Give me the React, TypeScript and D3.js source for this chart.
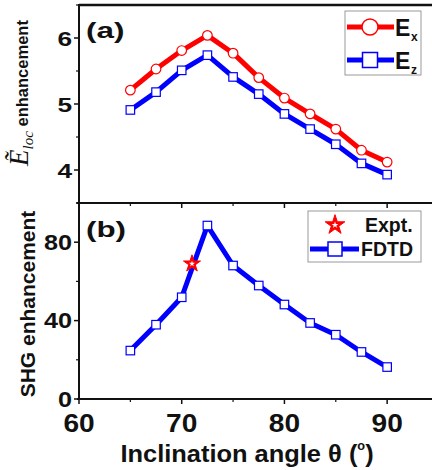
import React from "react";
import * as d3 from "d3";

const ANGLES = [65, 67.5, 70, 72.5, 75, 77.5, 80, 82.5, 85, 87.5, 90];
const EX = [5.21, 5.53, 5.81, 6.04, 5.77, 5.4, 5.09, 4.85, 4.62, 4.3, 4.12];
const EZ = [4.91, 5.18, 5.51, 5.74, 5.41, 5.15, 4.85, 4.62, 4.39, 4.1, 3.93];
const SHG = [24.7, 37.9, 51.9, 88.5, 68.1, 57.9, 48.2, 38.8, 32.8, 24.0, 16.3];
const EXPT_ANGLE = [71];
const EXPT_SHG = [69];

const X_TICKS = [60, 70, 80, 90];
const X_MINOR = [65, 75, 85, 95];
const A_TICKS = [4, 5, 6];
const A_MINOR = [3.5, 4.5, 5.5, 6.5];
const B_TICKS = [0, 40, 80];
const B_MINOR = [20, 60, 100];

const RED = "#ff0000";
const BLUE = "#0000ff";
const FONT = "'Liberation Sans', Arial, sans-serif";
const SERIF = "'Liberation Serif', 'DejaVu Serif', serif";

const x = d3.scaleLinear().domain([60, 95]).range([79, 438.5]);
const ya = d3.scaleLinear().domain([3.5, 6.5]).range([203, 5]);
const yb = d3.scaleLinear().domain([0, 100]).range([399, 203]);

function T({ x, y, size, anchor = "start", sx = 1, sy = 1, children, weight = "bold", family = FONT, rotate = 0 }: any) {
  return (
    <g transform={`translate(${x},${y}) rotate(${rotate}) scale(${sx},${sy})`}>
      <text x={0} y={0} fontSize={size} fontWeight={weight} fontFamily={family} textAnchor={anchor} fill="#111">
        {children}
      </text>
    </g>
  );
}

function Square({ cx, cy, s, sw = 1.2 }: any) {
  return <rect x={cx - s / 2} y={cy - s / 2} width={s} height={s} fill="#fff" stroke={BLUE} strokeWidth={sw} />;
}

function Star({ cx, cy, size }: any) {
  const outer = d3.symbol(d3.symbolStar, size)() as string;
  const inner = d3.symbol(d3.symbolStar, size * 0.12)() as string;
  return (
    <g transform={`translate(${cx},${cy})`}>
      <path d={outer} fill={RED} stroke={RED} strokeWidth={1} strokeLinejoin="round" />
      <path d={inner} fill="#fff" />
    </g>
  );
}

export default function App() {
  const lineA = (vals: number[]) =>
    d3.line<number>().x((_, i) => x(ANGLES[i])).y((d) => ya(d))(vals) as string;
  const lineB = d3.line<number>().x((_, i) => x(ANGLES[i])).y((d) => yb(d))(SHG) as string;

  return (
    <div style={{ position: "fixed", left: 0, top: 0 }}>
      <svg width={432} height={470} style={{ display: "block", background: "#fff" }}>
        {/* frame lines */}
        <line x1={79} x2={432} y1={5} y2={5} stroke="#111" strokeWidth={2.5} />
        <line x1={77} x2={432} y1={203} y2={203} stroke="#111" strokeWidth={2} />
        <line x1={77} x2={432} y1={399} y2={399} stroke="#111" strokeWidth={2} />
        <line x1={79} x2={79} y1={4} y2={400} stroke="#111" strokeWidth={2} />

        {/* y ticks a */}
        {A_TICKS.map((t) => (
          <g key={"a" + t}>
            <line x1={74} x2={79} y1={ya(t)} y2={ya(t)} stroke="#111" strokeWidth={1.5} />
            <T x={72} y={ya(t) + 7.5} size={25} anchor="end" sy={0.82} sx={1.05}>{t}</T>
          </g>
        ))}
        {A_MINOR.map((t) => (
          <line key={"am" + t} x1={76} x2={79} y1={ya(t)} y2={ya(t)} stroke="#111" strokeWidth={1.2} />
        ))}
        {/* y ticks b */}
        {B_TICKS.map((t) => (
          <g key={"b" + t}>
            <line x1={74} x2={79} y1={yb(t)} y2={yb(t)} stroke="#111" strokeWidth={1.5} />
            <T x={72} y={yb(t) + 7.5} size={24} anchor="end" sx={1.05} sy={0.95}>{t}</T>
          </g>
        ))}
        {B_MINOR.map((t) => (
          <line key={"bm" + t} x1={76} x2={79} y1={yb(t)} y2={yb(t)} stroke="#111" strokeWidth={1.2} />
        ))}
        {/* x ticks */}
        {X_TICKS.map((t) => (
          <g key={"x" + t}>
            <line x1={x(t)} x2={x(t)} y1={399} y2={404} stroke="#111" strokeWidth={1.5} />
            <line x1={x(t)} x2={x(t)} y1={203} y2={208} stroke="#111" strokeWidth={1.5} />
            <T x={x(t)} y={431.5} size={26} anchor="middle" sx={1.08}>{t}</T>
          </g>
        ))}
        {X_MINOR.map((t) => (
          <g key={"xm" + t}>
            <line x1={x(t)} x2={x(t)} y1={399} y2={402} stroke="#111" strokeWidth={1.2} />
            <line x1={x(t)} x2={x(t)} y1={203} y2={206} stroke="#111" strokeWidth={1.2} />
          </g>
        ))}

        {/* axis titles */}
        <g transform="translate(247,462) scale(1.06,1)">
          <text fontSize={24} fontWeight="bold" fontFamily={FONT} textAnchor="middle" fill="#111">
            Inclination angle θ (
            <tspan fontSize={12} dy={-12}>o</tspan>
            <tspan dy={12}>)</tspan>
          </text>
        </g>
        <T x={35} y={304} size={21} anchor="middle" rotate={-90}>SHG enhancement</T>
        <g transform="translate(28,93) rotate(-90)">
          <text textAnchor="middle" fill="#111">
            <tspan fontFamily={SERIF} fontStyle="italic" fontSize={27}>Ẽ</tspan>
            <tspan fontFamily={SERIF} fontStyle="italic" fontSize={15} dy={5}>loc</tspan>
            <tspan fontFamily={FONT} fontWeight="bold" fontSize={16.5} dy={-5}>{"  enhancement"}</tspan>
          </text>
        </g>

        {/* panel labels */}
        <T x={86} y={38} size={28} sy={0.8} sx={1.12}>(a)</T>
        <T x={86} y={237} size={28} sy={0.8} sx={1.12}>(b)</T>

        {/* panel a data */}
        <path d={lineA(EX)} fill="none" stroke={RED} strokeWidth={5} strokeLinejoin="round" />
        <path d={lineA(EZ)} fill="none" stroke={BLUE} strokeWidth={5} strokeLinejoin="round" />
        {EX.map((v, i) => (
          <circle key={"cx" + i} cx={x(ANGLES[i])} cy={ya(v)} r={4.8} fill="#fff" stroke={RED} strokeWidth={1.2} />
        ))}
        {EZ.map((v, i) => (
          <Square key={"sz" + i} cx={x(ANGLES[i])} cy={ya(v)} s={8.5} />
        ))}

        {/* panel b data */}
        <path d={lineB} fill="none" stroke={BLUE} strokeWidth={5} strokeLinejoin="round" />
        {SHG.map((v, i) => (
          <Square key={"sb" + i} cx={x(ANGLES[i])} cy={yb(v)} s={8.5} />
        ))}
        {EXPT_ANGLE.map((a, i) => (
          <Star key={"st" + i} cx={x(a)} cy={yb(EXPT_SHG[i])} size={90} />
        ))}

        {/* legend a */}
        <rect x={345} y={11} width={76} height={64} fill="#fff" stroke="#999" strokeWidth={1} />
        <line x1={347} x2={394} y1={27} y2={27} stroke={RED} strokeWidth={5} />
        <circle cx={370} cy={27} r={8} fill="#fff" stroke={RED} strokeWidth={1.5} />
        <T x={395} y={36} size={23}>E</T>
        <T x={411} y={41} size={12}>x</T>
        <line x1={347} x2={394} y1={60} y2={60} stroke={BLUE} strokeWidth={5} />
        <Square cx={370} cy={60} s={15} sw={1.5} />
        <T x={395} y={69} size={23}>E</T>
        <T x={411} y={74} size={12}>z</T>

        {/* legend b */}
        <rect x={308} y={211} width={113} height={51} fill="#fff" stroke="#999" strokeWidth={1} />
        <Star cx={335} cy={225} size={120} />
        <T x={365} y={232} size={19.5}>Expt.</T>
        <line x1={310} x2={359} y1={249} y2={249} stroke={BLUE} strokeWidth={5} />
        <Square cx={335} cy={249} s={14} sw={1.5} />
        <T x={361} y={256} size={19.5}>FDTD</T>
      </svg>
    </div>
  );
}
